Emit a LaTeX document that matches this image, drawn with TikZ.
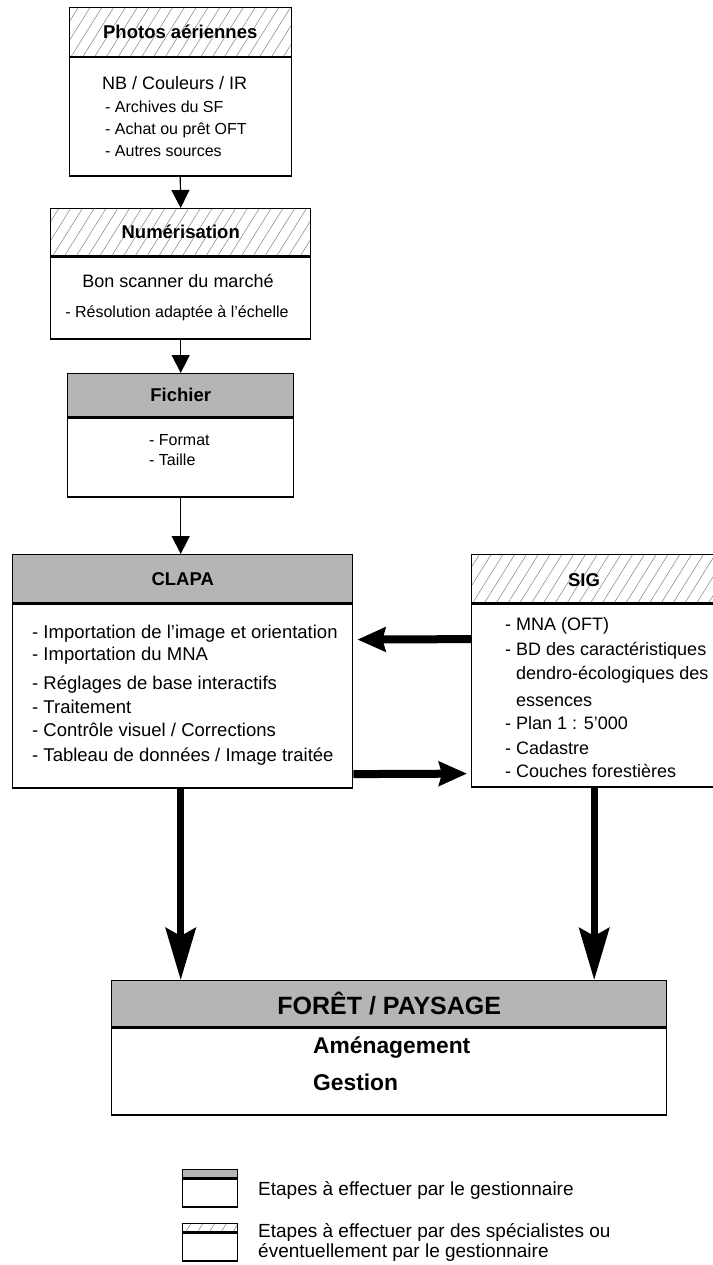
\documentclass[tikz,border=0pt]{standalone}
\usepackage{fontspec}
\setmainfont{Liberation Sans}
\usetikzlibrary{positioning,arrows.meta,patterns.meta}
\newcommand{\fs}[1]{\fontsize{#1}{1.2\dimexpr#1pt\relax}\selectfont}
\tikzset{every node/.style={inner sep=0pt},
  grise/.style={draw, line width=1.4pt, fill=black!29, font=\bfseries\fs{18.5}},
  hachure/.style={draw, line width=1.4pt, pattern={Lines[angle=58,distance=10pt,line width=0.5pt]}, pattern color=black!50, font=\bfseries\fs{18.5}},
  corps/.style={draw, line width=1.4pt, fill=white},
  ligne/.style={anchor=base west, font=\fs{18.5}},
  petit/.style={anchor=base west, font=\fs{16}},
  fin/.style={line width=1.2pt, -{Triangle[length=18pt,width=18pt]}},
  gros/.style={line width=7pt, -{Stealth[length=52pt,width=30pt,inset=8pt]}},
  moyen/.style={line width=8pt, shorten >=4pt, -{Stealth[length=28pt,width=24pt,inset=3pt]}}}

\begin{document}
\begin{tikzpicture}[x=1pt,y=-1pt]
  \useasboundingbox (0,0) rectangle (712,1265);

  % Photos
  \node[hachure, minimum width=222pt, minimum height=49pt, anchor=north west] (photo) at (69,7) {Photos aériennes};
  \node[corps, minimum width=222pt, minimum height=119pt, anchor=north] (photob) at (photo.south) {};
  \node[ligne, font=\fs{18}] (p0) at (102,90) {NB / Couleurs / IR};
  \node[petit] (p1) at (105,113) {- Archives du SF};
  \node[petit] (p2) at (105,135) {- Achat ou prêt OFT};
  \node[petit] (p3) at (105,157) {- Autres sources};

  % Numerisation
  \node[hachure, minimum width=260pt, minimum height=47pt, anchor=north west] (num) at (50,208) {Numérisation};
  \node[corps, minimum width=260pt, minimum height=82pt, anchor=north] (numb) at (num.south) {};
  \node[anchor=base, font=\fs{18}] (n0) at (178,287) {Bon scanner du marché};
  \node[anchor=base, font=\fs{16}] (n1) at (177,317) {- Résolution adaptée à l'échelle};

  % Fichier
  \node[grise, minimum width=226pt, minimum height=43pt, anchor=north west] (fich) at (67,373) {Fichier};
  \node[corps, minimum width=226pt, minimum height=79pt, anchor=north] (fichb) at (fich.south) {};
  \node[petit] (f1) at (149,445) {- Format};
  \node[petit] (f2) at (149,465) {- Taille};

  % CLAPA
  \node[grise, minimum width=340pt, minimum height=48pt, anchor=north west] (clapa) at (12,554) {CLAPA};
  \node[corps, minimum width=340pt, minimum height=184pt, anchor=north] (clapab) at (clapa.south) {};
  \foreach \y/\t [count=\i] in {638/{- Importation de l’image et orientation},
      660/{- Importation du MNA}, 689/{- Réglages de base interactifs},
      713/{- Traitement}, 736/{- Contrôle visuel / Corrections},
      761/{- Tableau de données / Image traitée}}
    \node[ligne] (c\i) at (32,\y) {\t};

  % SIG
  \node[hachure, minimum width=270pt, minimum height=48pt, anchor=north west] (sig) at (471,554) {};
  \node[font=\bfseries\fs{18.5}] (sigt) at (584,580) {SIG};
  \node[corps, minimum width=270pt, minimum height=183pt, anchor=north] (sigb) at (sig.south) {};
  \foreach \x/\y/\t [count=\i] in {505/630/{- MNA (OFT)}, 505/655/{- BD des caractéristiques},
      516/679/{dendro-écologiques des}, 516/706/{essences}, 505/729/{- Plan 1 : 5’000},
      505/754/{- Cadastre}, 505/777/{- Couches forestières}}
    \node[ligne, font=\fs{18}] (s\i) at (\x,\y) {\t};

  % Foret / paysage
  \node[grise, font=\bfseries\fs{25}, minimum width=555pt, minimum height=46pt, anchor=north west] (foret) at (111,980) {FORÊT / PAYSAGE};
  \node[corps, minimum width=555pt, minimum height=87pt, anchor=north] (foretb) at (foret.south) {};
  \node[anchor=base west, font=\bfseries\fs{22.8}] (g1) at (313,1053) {Aménagement};
  \node[anchor=base west, font=\bfseries\fs{22.8}] (g2) at (313,1090) {Gestion};

  % fleches
  \draw[fin] (photob.south) -- (num.north);
  \draw[fin] (numb.south) -- (fich.north);
  \draw[fin] (fichb.south) -- (fichb.south |- clapa.north);
  \draw[moyen] ([yshift=56.5pt]sigb.west) -- ([yshift=56.5pt]clapab.east);
  \draw[moyen] ([yshift=-78pt]clapab.east) -- ([yshift=-78pt]sigb.west);
  \draw[gros] ([xshift=-2pt]clapab.south) -- ([xshift=-2pt]clapab.south |- foret.north);
  \draw[gros] ([xshift=-12.5pt]sigb.south) -- ([xshift=-12.5pt]sigb.south |- foret.north);

  % legende
  \node[grise, minimum width=55pt, minimum height=8pt, anchor=north west] (lg1) at (182,1169) {};
  \node[corps, minimum width=55pt, minimum height=28pt, anchor=north] (lg1b) at (lg1.south) {};
  \node[hachure, minimum width=55pt, minimum height=8pt, anchor=north west] (lg2) at (182,1223) {};
  \node[corps, minimum width=55pt, minimum height=28pt, anchor=north] (lg2b) at (lg2.south) {};
  \node[anchor=base west, font=\fs{19}] (t1) at (258,1195) {Etapes à effectuer par le gestionnaire};
  \node[anchor=base west, font=\fs{19}] (t2) at (258,1237) {Etapes à effectuer par des spécialistes ou};
  \node[anchor=base west, font=\fs{19}] (t3) at (258,1257) {éventuellement par le gestionnaire};
\end{tikzpicture}
\end{document}
